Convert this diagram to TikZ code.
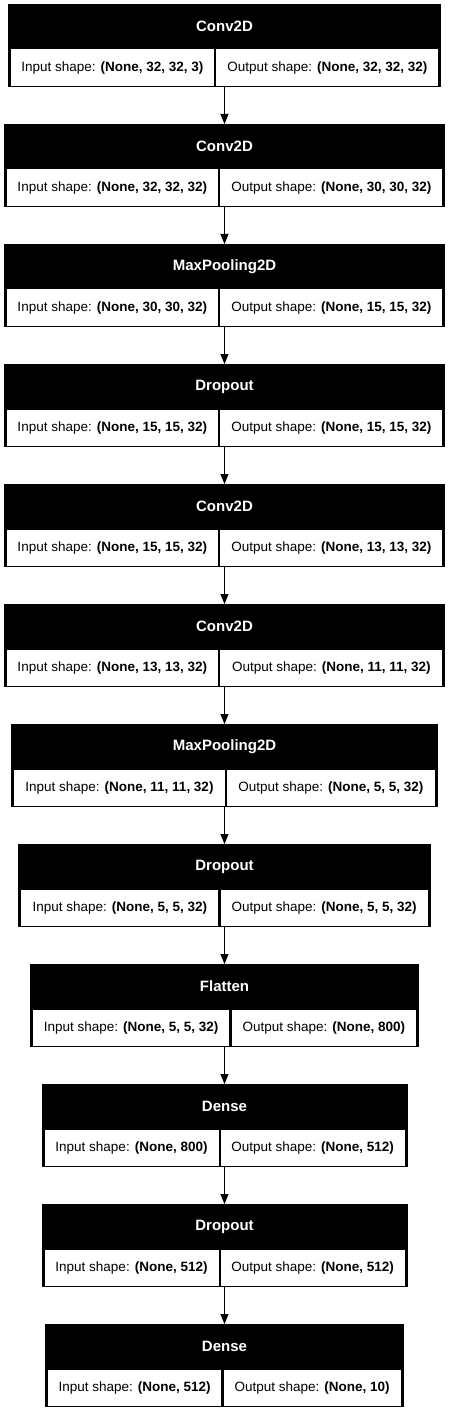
\documentclass[tikz,border=0pt]{standalone}
\usepackage{fontspec}
\setmainfont{Liberation Sans}
\usetikzlibrary{arrows.meta}

\tikzset{
  layer/.style={fill=black, minimum height=83pt, inner sep=0pt, outer sep=0pt, anchor=north},
  ttl/.style={text=white, font=\fontsize{15}{18}\selectfont\bfseries},
  cell/.style={fill=white, minimum height=36.5pt, inner sep=0pt, outer sep=0pt,
    font=\fontsize{13.5}{16}\selectfont},
  arr/.style={-{Triangle[length=10pt,width=8pt]}, line width=1pt}
}

\begin{document}
\begin{tikzpicture}[x=1pt, y=-1pt]
    \useasboundingbox (0,0) rectangle (449,1412);

    % Layers: index / width / divider / name / input / output
    \foreach \i/\w/\dv/\lname/\inp/\outp in {
        1/433.7/207.5/Conv2D/{(None, 32, 32, 3)}/{(None, 32, 32, 32)},
        2/441.7/215.5/Conv2D/{(None, 32, 32, 32)}/{(None, 30, 30, 32)},
        3/441.7/215.5/MaxPooling2D/{(None, 30, 30, 32)}/{(None, 15, 15, 32)},
        4/441.7/215.5/Dropout/{(None, 15, 15, 32)}/{(None, 15, 15, 32)},
        5/441.7/215.5/Conv2D/{(None, 15, 15, 32)}/{(None, 13, 13, 32)},
        6/441.7/215.5/Conv2D/{(None, 13, 13, 32)}/{(None, 11, 11, 32)},
        7/426.4/214.5/MaxPooling2D/{(None, 11, 11, 32)}/{(None, 5, 5, 32)},
        8/412.4/201.2/Dropout/{(None, 5, 5, 32)}/{(None, 5, 5, 32)},
        9/389.0/200.5/Flatten/{(None, 5, 5, 32)}/{(None, 800)},
        10/366.0/178.2/Dense/{(None, 800)}/{(None, 512)},
        11/366.0/178.2/Dropout/{(None, 512)}/{(None, 512)},
        12/358.4/177.0/Dense/{(None, 512)}/{(None, 10)}} {
        \pgfmathsetmacro{\top}{4+120*(\i-1)}
        \node[layer, minimum width=\w] (L\i) at (224.5,\top) {};
        \node[ttl] (T\i) at ([yshift=-22.5pt]L\i.north) {\lname};
        % Input / output cells
        \node[cell, anchor=north west, minimum width=\dv-4.2] (I\i)
            at ([xshift=3pt, yshift=-45.5pt]L\i.north west) {Input shape: \textbf{\inp}};
        \node[cell, anchor=north east, minimum width=\w-\dv-4.2] (O\i)
            at ([xshift=-3pt, yshift=-45.5pt]L\i.north east) {Output shape: \textbf{\outp}};
    }

    % Connections
    \foreach \i [evaluate=\i as \j using int(\i+1)] in {1,...,11}
        \draw[arr] (L\i.south) -- (L\j.north);
\end{tikzpicture}
\end{document}
